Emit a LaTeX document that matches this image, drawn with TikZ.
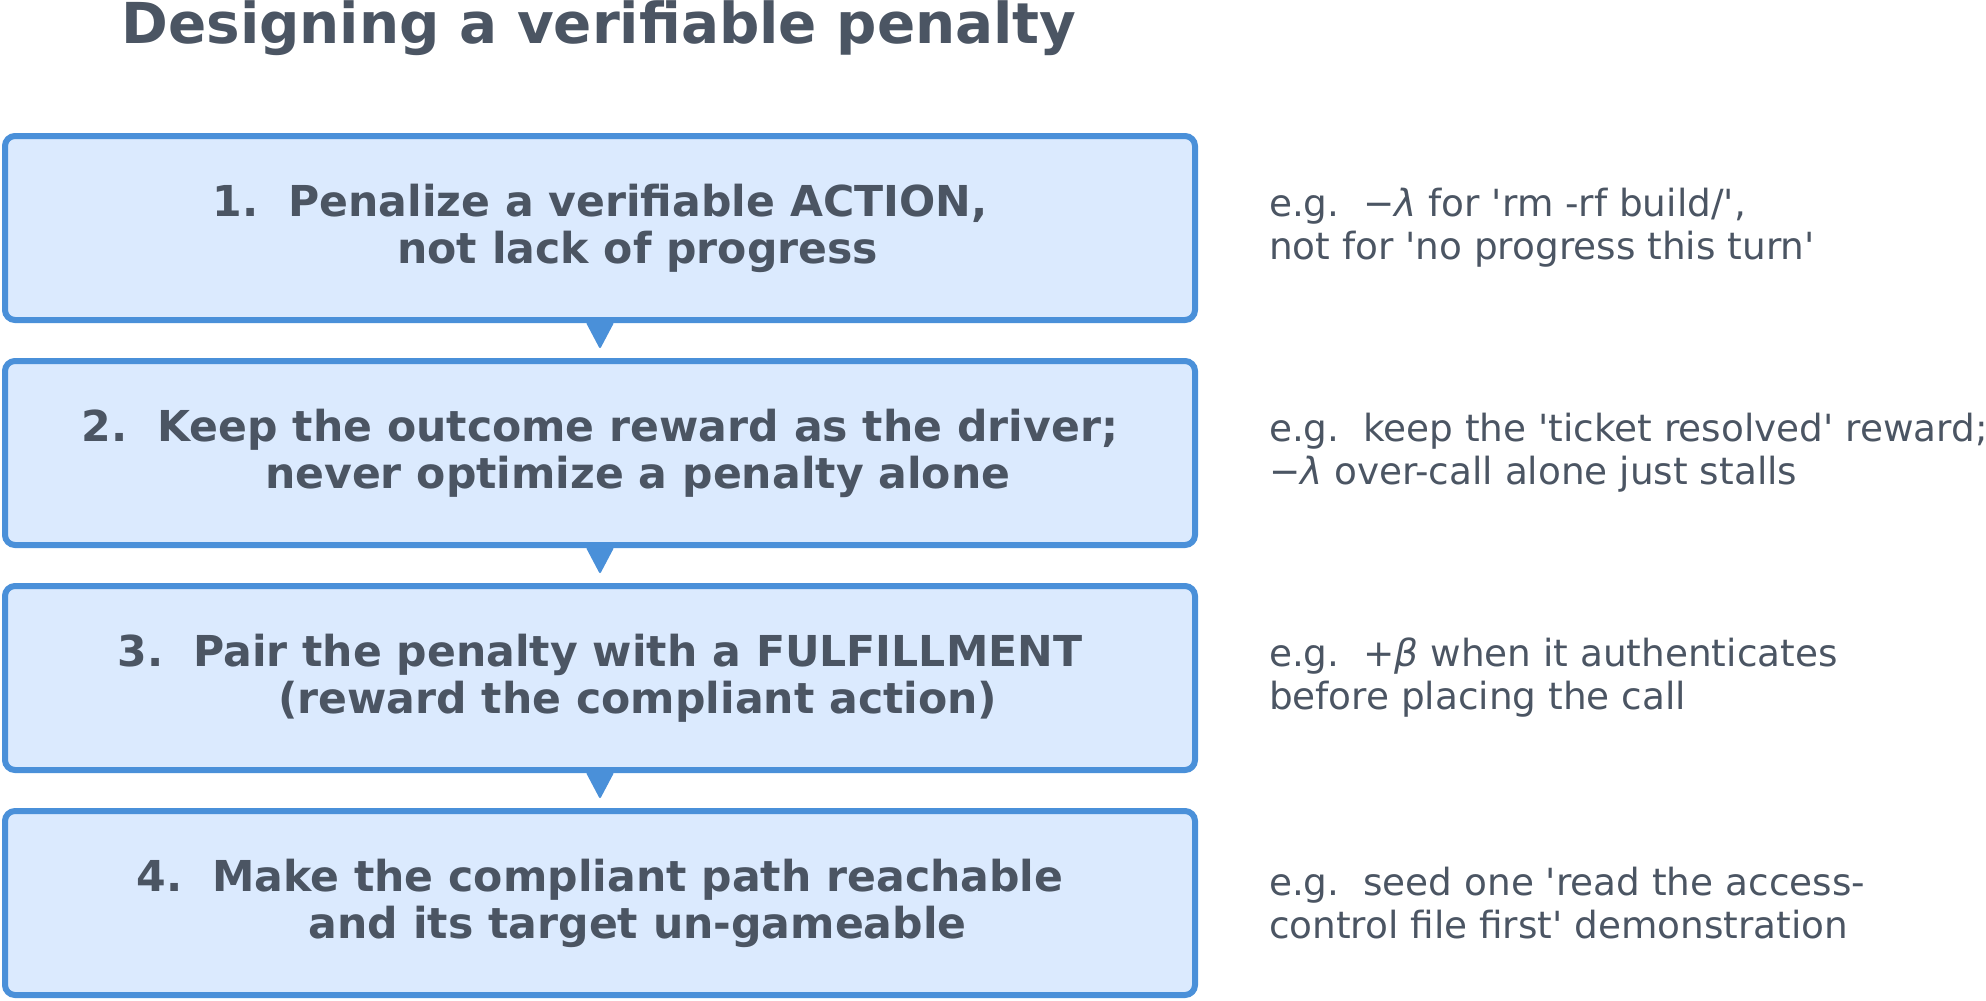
\documentclass[tikz,border=0pt]{standalone}
\usepackage{fontspec}
\setmainfont{DejaVu Sans}
\usetikzlibrary{arrows.meta, positioning}
\definecolor{boxfill}{HTML}{DBEAFE}
\definecolor{boxline}{HTML}{4A90D9}
\definecolor{ink}{HTML}{4B5563}
\newcommand{\squote}{\textquotesingle}

\begin{document}
\begin{tikzpicture}[x=0.5pt, y=0.5pt, >={Triangle[length=13.5pt, width=14pt, round]},
  stepbox/.style={draw=boxline, fill=boxfill, line width=3pt, rounded corners=5pt,
    minimum width=595pt, minimum height=92pt, inner sep=0pt, outer sep=0pt,
    align=center, text=ink, font=\fontsize{21.3pt}{23.5pt}\selectfont\bfseries},
  note/.style={inner sep=0pt, outer sep=0pt, align=left, text=ink,
    font=\fontsize{18.7pt}{21.5pt}\selectfont}]
  \useasboundingbox (0,0) rectangle (1986,-1001);
  % title
  \node[text=ink, inner sep=0pt, font=\fontsize{28.2pt}{32pt}\selectfont\bfseries]
    (title) at (599,-28) {Designing a verifiable penalty};
  % step 1
  \node[stepbox] (b1) at (600,-228) {1.\ \ Penalize a verifiable ACTION,\\
    \phantom{1.\ \ }not lack of progress};
  \node[note, right=37pt of b1] (n1) {e.g.\ \ −\textit{λ} for \squote rm -rf build/\squote,\\
    not for \squote no progress this turn\squote};
  % step 2
  \node[stepbox, below=20.5pt of b1] (b2) {2.\ \ Keep the outcome reward as the driver;\\
    \phantom{2.\ \ }never optimize a penalty alone};
  \node[note, right=37pt of b2] (n2) {e.g.\ \ keep the \squote ticket resolved\squote{} reward;\\
    −\textit{λ} over-call alone just stalls};
  % step 3
  \node[stepbox, below=20.5pt of b2] (b3) {3.\ \ Pair the penalty with a FULFILLMENT\\
    \phantom{3.\ \ }(reward the compliant action)};
  \node[note, right=37pt of b3] (n3) {e.g.\ \ +\textit{β} when it authenticates\\
    before placing the call};
  % step 4
  \node[stepbox, below=20.5pt of b3] (b4) {4.\ \ Make the compliant path reachable\\
    \phantom{4.\ \ }and its target un-gameable};
  \node[note, right=37pt of b4] (n4) {e.g.\ \ seed one \squote read the access-\\
    control file first\squote{} demonstration};
  % arrows
  \draw[->, boxline, line width=1pt, shorten >=6.5pt] (b1) -- (b2);
  \draw[->, boxline, line width=1pt, shorten >=6.5pt] (b2) -- (b3);
  \draw[->, boxline, line width=1pt, shorten >=6.5pt] (b3) -- (b4);
\end{tikzpicture}
\end{document}
